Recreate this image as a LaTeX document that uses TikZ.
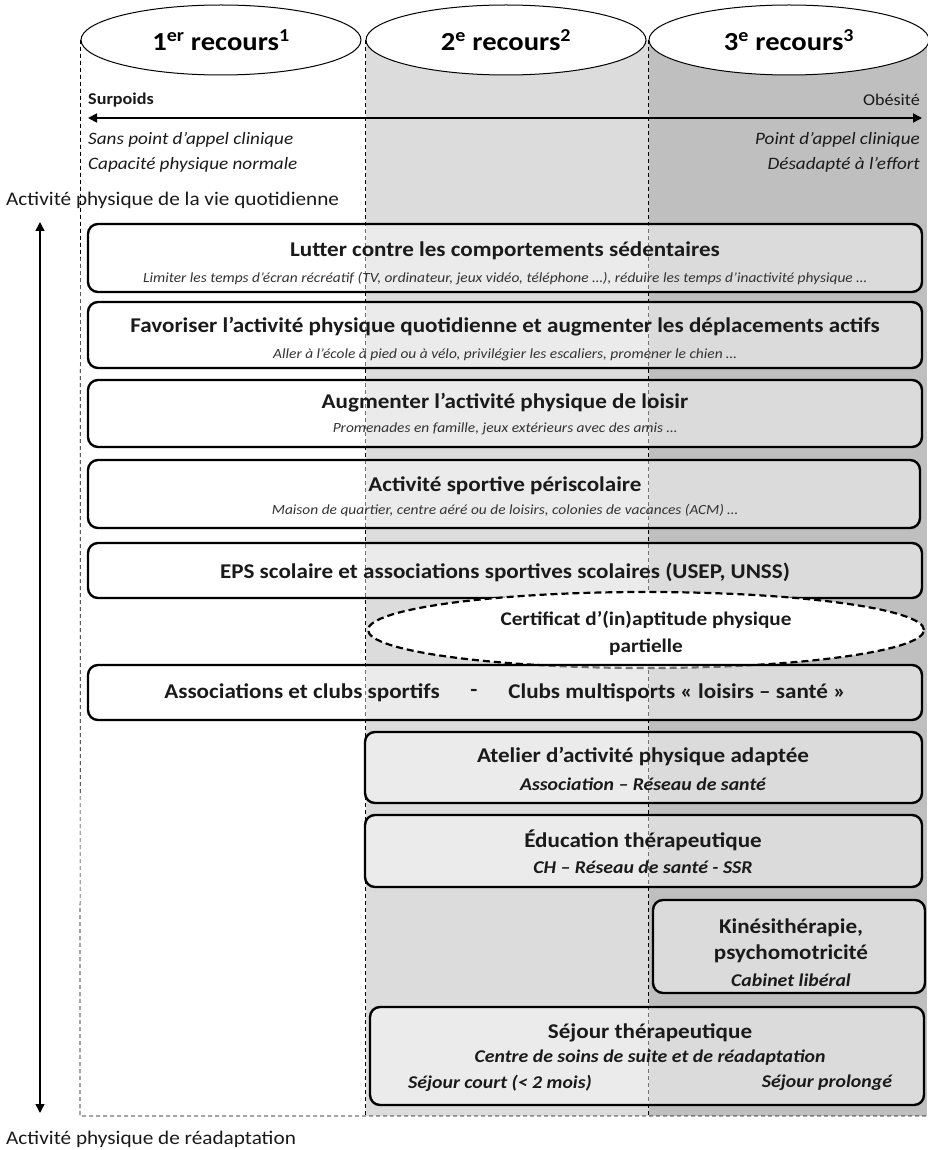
\documentclass[tikz,border=0pt]{standalone}
\usepackage{fontspec}
\setmainfont{Carlito}[FakeStretch=1.1]
\usetikzlibrary{arrows.meta,shapes.geometric}
\definecolor{gtwo}{HTML}{DCDCDC}
\definecolor{gthree}{HTML}{BFBFBF}
\definecolor{ink}{HTML}{1A1A1A}
\definecolor{subink}{HTML}{333333}
\begin{document}
\begin{tikzpicture}[x=1pt,y=-1pt,
  hdr/.style={ellipse,draw,line width=1pt,fill=white,minimum width=280pt,minimum height=70pt,inner sep=0pt,font=\fontsize{26}{30}\selectfont\bfseries},
  dashline/.style={dashed,dash pattern=on 4pt off 3pt,line width=0.7pt},
  boxst/.style={draw,rounded corners=10pt,line width=2.4pt,fill=white,fill opacity=0.45,inner sep=0pt},
  ttl/.style={text=ink,inner sep=0pt,font=\fontsize{21}{24}\selectfont\bfseries},
  sub/.style={text=subink,inner sep=0pt,font=\fontsize{14}{16}\selectfont\itshape},
  bsub/.style={text=ink,inner sep=0pt,font=\fontsize{18}{20}\selectfont\bfseries\itshape},
  lbl/.style={text=ink,inner sep=0pt,font=\fontsize{16.5}{19}\selectfont},
  ilbl/.style={text=ink,inner sep=0pt,font=\fontsize{17.4}{20}\selectfont\itshape},
  side/.style={text=ink,inner sep=0pt,font=\fontsize{19.3}{22}\selectfont},
  arr/.style={{Triangle[length=9pt,width=9pt]}-{Triangle[length=9pt,width=9pt]},line width=1.8pt}
]
\useasboundingbox (0,0) rectangle (927,1150);
% column shading
\fill[gtwo] (366,40) rectangle (649,1116);
\fill[gthree] (649,40) rectangle (927,1116);
% header ellipses
\node[hdr] (e1) at (221,40) {1\textsuperscript{er} recours\textsuperscript{1}};
\node[hdr] (e2) at (506,40) {2\textsuperscript{e} recours\textsuperscript{2}};
\node[hdr] (e3) at (789,40) {3\textsuperscript{e} recours\textsuperscript{3}};
% dashed frame
\coordinate (bl) at (80,1116);
\coordinate (br) at (927,1116);
\draw[dashline] (e1.west) -- (bl) -- (br);
\draw[dashline] (e2.west) -- (e2.west |- bl);
\draw[dashline] (e3.west) -- (e3.west |- bl);
% severity axis
\node[lbl,anchor=west,font=\fontsize{16.5}{19}\selectfont\bfseries] (surp) at (88,100) {Surpoids};
\node[lbl,anchor=east] (obes) at (920,100) {Obésité};
\coordinate (ha) at (88,118);
\coordinate (hb) at (922,118);
\draw[arr] (ha) -- (hb);
\node[ilbl,anchor=west] (l1) at (88,140) {Sans point d’appel clinique};
\node[ilbl,anchor=west] (l2) at (88,165) {Capacité physique normale};
\node[ilbl,anchor=east] (r1) at (920,140) {Point d’appel clinique};
\node[ilbl,anchor=east] (r2) at (920,165) {Désadapté à l’effort};
% vertical axis
\node[side,anchor=west] (top) at (6,200) {Activité physique de la vie quotidienne};
\coordinate (va) at (40,222);
\coordinate (vb) at (40,1113);
\draw[arr,line width=1.5pt] (va) -- (vb);
\node[side,anchor=west] (bot) at (6,1139) {Activité physique de réadaptation};
% boxes
\node[boxst,minimum width=834pt,minimum height=68pt] (b1) at (505,258) {};
\node[ttl] (t1) at (505,251) {Lutter contre les comportements sédentaires};
\node[sub] (s1) at (505,279) {Limiter les temps d’écran récréatif (TV, ordinateur, jeux vidéo, téléphone …), réduire les temps d’inactivité physique …};
\node[boxst,minimum width=834pt,minimum height=66pt] (b2) at (505,335) {};
\node[ttl] (t2) at (505,327) {Favoriser l’activité physique quotidienne et augmenter les déplacements actifs};
\node[sub] (s2) at (505,355) {Aller à l’école à pied ou à vélo, privilégier les escaliers, promener le chien …};
\node[boxst,minimum width=834pt,minimum height=67pt] (b3) at (505,413.5) {};
\node[ttl] (t3) at (505,403) {Augmenter l’activité physique de loisir};
\node[sub] (s3) at (505,429) {Promenades en famille, jeux extérieurs avec des amis …};
\node[boxst,minimum width=832pt,minimum height=68pt] (b4) at (504,494) {};
\node[ttl] (t4) at (505,486) {Activité sportive périscolaire};
\node[sub] (s4) at (505,511) {Maison de quartier, centre aéré ou de loisirs, colonies de vacances (ACM) …};
\node[boxst,minimum width=834pt,minimum height=55pt] (b5) at (505,570.5) {};
\node[ttl] (t5) at (505,572) {EPS scolaire et associations sportives scolaires (USEP, UNSS)};
% certificate ellipse
\node[ellipse,draw,dashed,dash pattern=on 7pt off 4pt,line width=2.2pt,fill=white,minimum width=556pt,minimum height=76pt,inner sep=0pt] (cert) at (646,630) {};
\node[ttl,font=\fontsize{19.3}{22}\selectfont\bfseries] (c1) at (646,620) {Certificat d’(in)aptitude physique};
\node[ttl,font=\fontsize{19.3}{22}\selectfont\bfseries] (c2) at (646,647) {partielle};
\node[boxst,minimum width=834pt,minimum height=55pt] (b6) at (505,692.5) {};
\node[ttl] (t6a) at (302,693) {Associations et clubs sportifs};
\node[ttl] (t6b) at (474,693) {-};
\node[ttl] (t6c) at (677,693) {Clubs multisports « loisirs – santé »};
% second/third level boxes
\node[boxst,minimum width=557pt,minimum height=71pt] (b7) at (643.5,767.5) {};
\node[ttl] (t7) at (643,757) {Atelier d’activité physique adaptée};
\node[bsub] (s7) at (643,784) {Association – Réseau de santé};
\node[boxst,minimum width=557pt,minimum height=72pt] (b8) at (643.5,851) {};
\node[ttl] (t8) at (643,840) {Éducation thérapeutique};
\node[bsub] (s8) at (643,867) {CH – Réseau de santé - SSR};
\node[boxst,minimum width=272pt,minimum height=93pt] (b9) at (789,946.5) {};
\node[ttl] (t9a) at (791,928) {Kinésithérapie,};
\node[ttl] (t9b) at (791,954) {psychomotricité};
\node[bsub] (s9) at (791,980) {Cabinet libéral};
\node[boxst,minimum width=554pt,minimum height=98pt] (b10) at (647,1056) {};
\node[ttl] (t10) at (650,1033) {Séjour thérapeutique};
\node[bsub] (s10) at (650,1058) {Centre de soins de suite et de réadaptation};
\node[bsub] (s10a) at (500,1083) {Séjour court (< 2 mois)};
\node[bsub] (s10b) at (827,1083) {Séjour prolongé};
\end{tikzpicture}
\end{document}
